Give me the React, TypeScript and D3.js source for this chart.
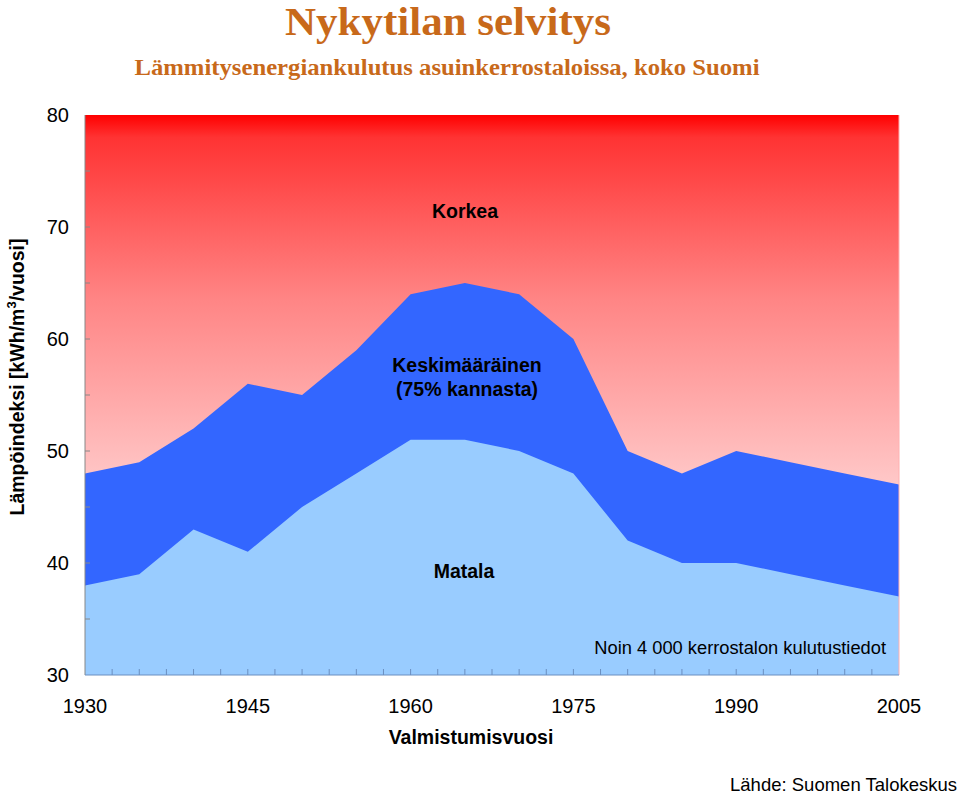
import React from "react";
import * as d3 from "d3";

const years = [1930, 1935, 1940, 1945, 1950, 1955, 1960, 1965, 1970, 1975, 1980, 1985, 1990, 1995, 2000, 2005];
const upperValues = [48, 49, 52, 56, 55, 59, 64, 65, 64, 60, 50, 48, 50, 49, 48, 47];
const lowerValues = [38, 39, 43, 41, 45, 48, 51, 51, 50, 48, 42, 40, 40, 39, 38, 37];
const yTicks = [30, 40, 50, 60, 70, 80];
const xTicks = [1930, 1945, 1960, 1975, 1990, 2005];

const W = 959, H = 794;
const M = { left: 85, right: 899, top: 115, bottom: 675 };

export default function App() {
  const x = d3.scaleLinear().domain([1930, 2005]).range([M.left, M.right]);
  const y = d3.scaleLinear().domain([30, 80]).range([M.bottom, M.top]);
  const upperArea = d3.area<number>().x((_, i) => x(years[i])).y0(y(30)).y1((d) => y(d));
  const lowerArea = d3.area<number>().x((_, i) => x(years[i])).y0(y(30)).y1((d) => y(d));
  const minorX = d3.range(1932.5, 2005, 2.5);
  const minorY = d3.range(35, 80, 5);
  const sans = "'Liberation Sans', Arial, sans-serif";
  const serif = "'Liberation Serif', 'Times New Roman', serif";
  return (
    <svg width={W} height={H} style={{ position: "absolute", left: 0, top: 0 }}>
      <defs>
        <linearGradient id="bg" x1="0" y1="0" x2="0" y2="1">
          <stop offset="0" stopColor="#ff0000" />
          <stop offset="0.04" stopColor="#ff3333" />
          <stop offset="0.33" stopColor="#ff8585" />
          <stop offset="0.65" stopColor="#ffc6c6" />
          <stop offset="1" stopColor="#fff0f0" />
        </linearGradient>
      </defs>
      <text x={448} y={35} textAnchor="middle" fontFamily={serif} fontWeight="bold" fontSize={40} textLength={326} lengthAdjust="spacingAndGlyphs" fill="#c8691a">Nykytilan selvitys</text>
      <text x={447} y={75} textAnchor="middle" fontFamily={serif} fontWeight="bold" fontSize={24} textLength={625} lengthAdjust="spacingAndGlyphs" fill="#c8691a">Lämmitysenergiankulutus asuinkerrostaloissa, koko Suomi</text>
      <rect x={M.left} y={M.top} width={M.right - M.left} height={M.bottom - M.top} fill="url(#bg)" />
      <path d={upperArea(upperValues) || ""} fill="#3366ff" />
      <path d={lowerArea(lowerValues) || ""} fill="#99ccff" />
      <line x1={M.right} x2={M.right} y1={M.top} y2={M.bottom} stroke="#ffb0b0" strokeWidth={1} />
      <line x1={M.left} x2={M.left} y1={M.top} y2={M.bottom} stroke="#888" strokeWidth={1} />
      <line x1={M.left} x2={M.right} y1={M.bottom} y2={M.bottom} stroke="#6a8fc0" strokeWidth={1} />
      {minorY.map((v) => (
        <line key={"yt" + v} x1={M.left} x2={M.left + 5} y1={y(v)} y2={y(v)} stroke="#888" />
      ))}
      {minorX.map((v) => (
        <line key={"xt" + v} x1={x(v)} x2={x(v)} y1={M.bottom} y2={M.bottom - 6} stroke="#6a8fc0" />
      ))}
      {yTicks.map((v) => (
        <text key={"yl" + v} x={69} y={y(v)} dy="0.35em" textAnchor="end" fontFamily={sans} fontSize={20} fill="#000">{v}</text>
      ))}
      {xTicks.map((v) => (
        <text key={"xl" + v} x={x(v)} y={706} dy="0.35em" textAnchor="middle" fontFamily={sans} fontSize={20} fill="#000">{v}</text>
      ))}
      <text x={471} y={744} textAnchor="middle" fontFamily={sans} fontWeight="bold" fontSize={19.5} fill="#000">Valmistumisvuosi</text>
      <text transform="translate(24,377) rotate(-90)" textAnchor="middle" fontFamily={sans} fontWeight="bold" fontSize={19.5} fill="#000">
        Lämpöindeksi [kWh/m<tspan dy={-8} fontSize={13}>3</tspan><tspan dy={8}>/vuosi]</tspan>
      </text>
      <text x={465} y={218} textAnchor="middle" fontFamily={sans} fontWeight="bold" fontSize={19.5} fill="#000">Korkea</text>
      <text x={467} y={372} textAnchor="middle" fontFamily={sans} fontWeight="bold" fontSize={19.5} fill="#000">Keskimääräinen</text>
      <text x={467} y={396} textAnchor="middle" fontFamily={sans} fontWeight="bold" fontSize={19.5} fill="#000">(75% kannasta)</text>
      <text x={464} y={578} textAnchor="middle" fontFamily={sans} fontWeight="bold" fontSize={19.5} fill="#000">Matala</text>
      <text x={886} y={654} textAnchor="end" fontFamily={sans} fontSize={18.3} fill="#000">Noin 4 000 kerrostalon kulutustiedot</text>
      <text x={957} y={791} textAnchor="end" fontFamily={sans} fontSize={18.5} fill="#000">Lähde: Suomen Talokeskus</text>
    </svg>
  );
}
